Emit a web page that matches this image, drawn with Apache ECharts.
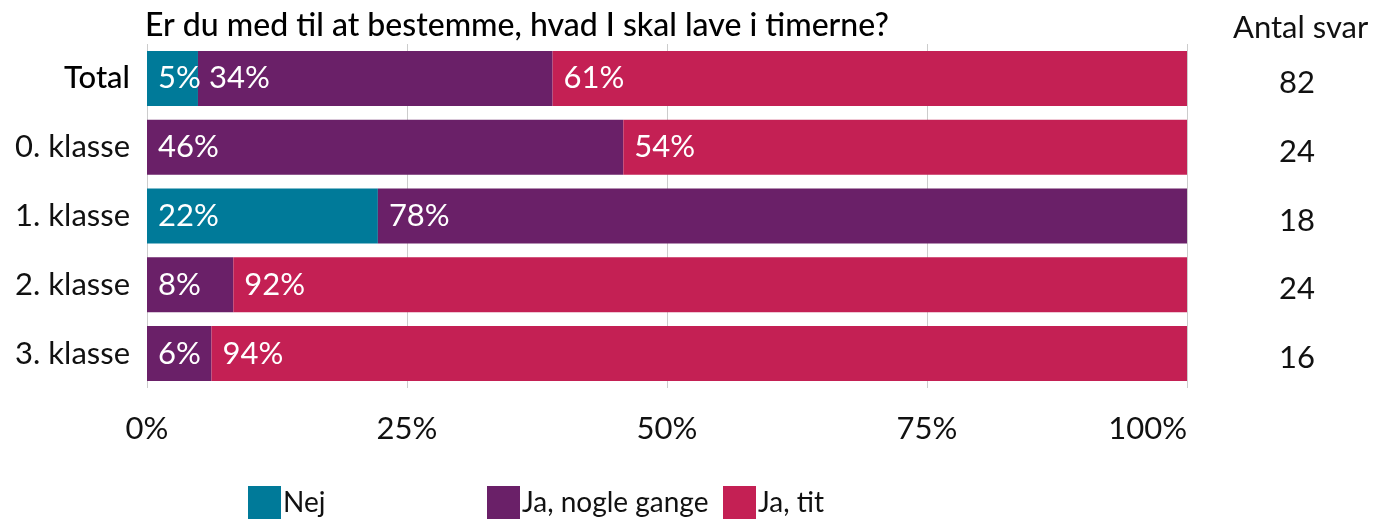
<!DOCTYPE html>
<html><head><meta charset="utf-8">
<script src="https://cdn.jsdelivr.net/npm/echarts@6/dist/echarts.min.js"></script>
<style>html,body{margin:0;padding:0;background:#fff}#c{width:1377px;height:521px}</style>
</head><body><div id="c"></div>
<script>
const title = 'Er du med til at bestemme, hvad I skal lave i timerne?';
const countTitle = 'Antal svar';
const categories = ['Total', '0. klasse', '1. klasse', '2. klasse', '3. klasse'];
const counts = [82, 24, 18, 24, 16];
const seriesNames = ['Nej', 'Ja, nogle gange', 'Ja, tit'];
const nej = [4.9, 0, 22.2, 0, 0];
const jaNogle = [34.1, 45.8, 77.8, 8.3, 6.2];
const jaTit = [61.0, 54.2, 0, 91.7, 93.8];
const xTicks = [0, 25, 50, 75, 100];
const colors = ['#007A99', '#6A2068', '#C42054'];

const FONT = 'Lato';
const FS = 31;
const chart = echarts.init(document.getElementById('c'));
const values = [nej, jaNogle, jaTit];
const legendLefts = [248, 487, 723];
chart.setOption({
  animation: false,
  textStyle: { fontFamily: FONT },
  title: [{
    text: title, left: 145, top: 10, padding: 0,
    textStyle: { fontFamily: FONT, fontSize: 32, fontWeight: 500, color: '#000' }
  }, {
    text: countTitle, left: 1233, top: 12, padding: 0,
    textStyle: { fontFamily: FONT, fontSize: 31, fontWeight: 'normal', color: '#111' }
  }],
  legend: seriesNames.map((n, i) => ({
    data: [n], left: legendLefts[i], top: 486, padding: 0, itemWidth: 33, itemHeight: 33, itemGap: 6,
    icon: 'rect',
    textStyle: { fontFamily: FONT, fontSize: 28, color: '#111', padding: [7, 0, 0, -3] }
  })),
  grid: { left: 147, right: 190, top: 44, bottom: 133, containLabel: false },
  xAxis: {
    type: 'value', min: 0, max: 100, interval: 25,
    axisLine: { show: false }, axisTick: { show: false },
    splitLine: { show: true, lineStyle: { color: '#cccccc', width: 1 } },
    axisLabel: {
      formatter: v => v + '%', fontFamily: FONT, fontSize: FS, color: '#111', margin: 25,
      alignMaxLabel: 'right'
    }
  },
  yAxis: [{
    type: 'category', data: categories, inverse: true,
    axisLine: { show: false }, axisTick: { show: false },
    axisLabel: {
      fontFamily: FONT, fontSize: FS, color: '#111', margin: 17,
      formatter: v => v === 'Total' ? '{b|' + v + '}' : v,
      rich: { b: { fontFamily: FONT, fontSize: FS, fontWeight: 500, color: '#000' } }
    }
  }, {
    type: 'category', data: counts.map(String), inverse: true, position: 'right',
    axisLine: { show: false }, axisTick: { show: false },
    axisLabel: {
      fontFamily: FONT, fontSize: FS, color: '#111', margin: 110, align: 'center',
      formatter: v => '{a|' + v + '}',
      rich: { a: { fontFamily: FONT, fontSize: FS, color: '#111', padding: [9, 0, 0, 0] } }
    }
  }],
  series: seriesNames.map((n, i) => ({
    name: n, type: 'bar', stack: 'all', barCategoryGap: '20%',
    data: values[i],
    itemStyle: { color: colors[i] },
    label: {
      show: true, position: 'insideLeft', distance: 11, color: '#fff',
      fontFamily: FONT, fontSize: FS,
      formatter: p => p.value > 0 ? Math.round(p.value) + '%' : ''
    }
  }))
});
</script></body></html>
